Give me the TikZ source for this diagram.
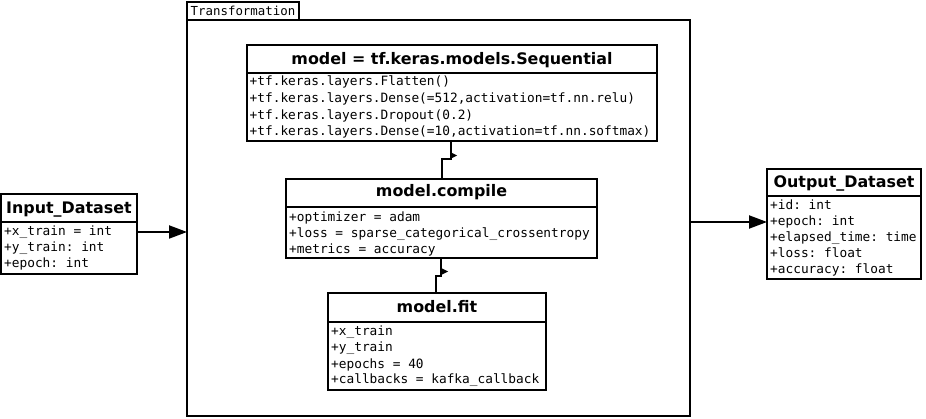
\documentclass[tikz,border=0pt]{standalone}
\usepackage{fontspec}
\setmainfont{DejaVu Sans}
\newfontfamily\monof{DejaVu Sans Mono}
\usetikzlibrary{calc,arrows.meta}
\tikzset{
  box/.style={draw, line width=2pt, fill=white, outer sep=0pt, inner sep=0pt, anchor=north west},
  ttl/.style={font=\fontsize{15.9}{18}\selectfont\bfseries\frenchspacing, inner sep=0pt, anchor=base},
  txt/.style={font=\monof\fontsize{12.8}{15}\selectfont\frenchspacing, inner sep=0pt, anchor=base west},
  divline/.style={line width=2pt},
  conn/.style={line width=2pt},
  bigarrow/.style={line width=2pt, -{Triangle[length=18pt,width=13pt]}},
  smalltip/.style={fill=black},
}
\begin{document}
\begin{tikzpicture}[x=1pt,y=-1pt]
\useasboundingbox (0,0) rectangle (926,419);
\fill[white] (0,0) rectangle (926,419);

% frame
\node[box, minimum width=503pt, minimum height=396pt] (frame) at (187,20) {};
\node[draw, line width=1.2pt, fill=white, outer sep=0pt, inner sep=0pt, anchor=south west,
      minimum width=112pt, minimum height=18pt, font=\monof\fontsize{12.4}{14}\selectfont]
      (tab) at (frame.north west) {Transformation};

% Input_Dataset
\node[box, minimum width=136pt, minimum height=80pt] (in) at (1,194) {};
\draw[divline] ($(in.north west)+(0,28)$) -- ($(in.north east)+(0,28)$);
\node[ttl] (in-t) at ($(in.north)+(0,20)$) {Input\_Dataset};
\foreach \t [count=\i from 0] in {{+x\_train = int},{+y\_train: int},{+epoch: int}}
  \node[txt] (in-l\i) at ($(in.north west)+(3,42+16*\i)$) {\t};

% Sequential
\node[box, minimum width=410pt, minimum height=96pt] (seq) at (247,45) {};
\draw[divline] ($(seq.north west)+(0,28)$) -- ($(seq.north east)+(0,28)$);
\node[ttl] (seq-t) at ($(seq.north)+(0,19.5)$) {model = tf.keras.models.Sequential};
\foreach \t [count=\i from 0] in {{+tf.keras.layers.Flatten()},{+tf.keras.layers.Dense(=512,activation=tf.nn.relu)},{+tf.keras.layers.Dropout(0.2)},{+tf.keras.layers.Dense(=10,activation=tf.nn.softmax)}}
  \node[txt] (seq-l\i) at ($(seq.north west)+(2.5,41+16.6*\i)$) {\t};

% compile
\node[box, minimum width=311pt, minimum height=79pt] (comp) at (286,179) {};
\draw[divline] ($(comp.north west)+(0,28)$) -- ($(comp.north east)+(0,28)$);
\node[ttl] (comp-t) at ($(comp.north)+(0,18)$) {model.compile};
\foreach \t [count=\i from 0] in {{+optimizer = adam},{+loss = sparse\_categorical\_crossentropy},{+metrics = accuracy}}
  \node[txt] (comp-l\i) at ($(comp.north west)+(3,42.5+16*\i)$) {\t};

% fit
\node[box, minimum width=218pt, minimum height=97pt] (fit) at (328,293) {};
\draw[divline] ($(fit.north west)+(0,29)$) -- ($(fit.north east)+(0,29)$);
\node[ttl] (fit-t) at ($(fit.north)+(0,19.5)$) {model.fit};
\foreach \t [count=\i from 0] in {{+x\_train},{+y\_train},{+epochs = 40},{+callbacks = kafka\_callback}}
  \node[txt] (fit-l\i) at ($(fit.north west)+(3,43+16*\i)$) {\t};

% Output_Dataset
\node[box, minimum width=154pt, minimum height=110pt] (out) at (767,169) {};
\draw[divline] ($(out.north west)+(0,27)$) -- ($(out.north east)+(0,27)$);
\node[ttl] (out-t) at ($(out.north)+(0,19)$) {Output\_Dataset};
\foreach \t [count=\i from 0] in {{+id: int},{+epoch: int},{+elapsed\_time: time},{+loss: float},{+accuracy: float}}
  \node[txt] (out-l\i) at ($(out.north west)+(3,40.5+16*\i)$) {\t};

% connectors inside
\coordinate (c1a) at ($(seq.south west)+(204,0)$);
\coordinate (c1b) at ($(comp.north west)+(156,0)$);
\draw[conn] (c1a) -- ++(0,18) -| (c1b);
\fill[smalltip] ($(c1a)+(-1,11)$) -- ++(7,3.5) -- ++(-7,3.5) -- cycle;

\coordinate (c2a) at ($(comp.south west)+(155,0)$);
\coordinate (c2b) at ($(fit.north west)+(108,0)$);
\draw[conn] (c2a) -- ++(0,18) -| (c2b);
\fill[smalltip] ($(c2a)+(-1,9.5)$) -- ++(8,4) -- ++(-8,4) -- cycle;

% outer arrows
\coordinate (ia) at ($(in.north east)+(0,38)$);
\draw[bigarrow] (ia) -- (ia -| frame.west);
\coordinate (oa) at ($(out.north west)+(0,53)$);
\draw[bigarrow] (oa -| frame.east) -- (oa);
\end{tikzpicture}
\end{document}
